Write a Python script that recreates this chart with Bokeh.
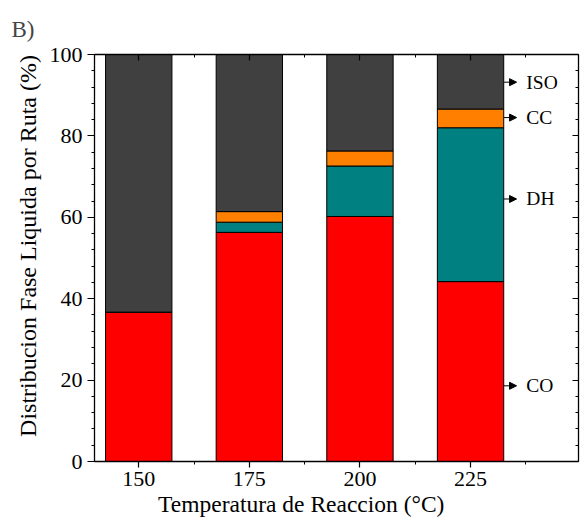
from bokeh.plotting import figure
from bokeh.models import (Range1d, LinearAxis, Arrow, NormalHead, FixedTicker,
                          SingleIntervalTicker, ColumnDataSource, CustomJSTickFormatter)
from bokeh.core.properties import value
from bokeh.embed import file_html
from bokeh.resources import INLINE

# ---- data ----
temps = [150, 175, 200, 225]
series = ["CO", "DH", "CC", "ISO"]
co = [36.7, 56.3, 60.2, 44.2]
dh = [0.0, 2.5, 12.4, 37.8]
cc = [0.0, 2.6, 3.7, 4.6]
iso = [63.3, 38.6, 23.7, 13.4]
colors = ["#FF0000", "#008080", "#FF8000", "#404040"]
label_y = [18.6, 64.5, 84.5, 93.2]   # annotation heights of the route labels
x_title = "Temperatura de Reaccion (°C)"
y_title = "Distribucion Fase Liquida por Ruta (%)"
panel = "B)"

FONT = "Liberation Serif"
BAR_W = 15
X0, X1 = 140, 249.4
NB = "\u00a0"

src = ColumnDataSource(dict(x=temps, CO=co, DH=dh, CC=cc, ISO=iso))

p = figure(width=580, height=522, x_range=Range1d(X0, X1), y_range=Range1d(0, 100),
           output_backend="svg", toolbar_location=None,
           min_border_left=94, min_border_right=2, min_border_top=54, min_border_bottom=61)
p.grid.visible = False
p.outline_line_color = None

p.vbar_stack(series, x="x", width=BAR_W, source=src, fill_color=colors,
             line_color="black", line_width=1)

xminor = [t + 12.5 for t in temps]
blank = CustomJSTickFormatter(code="return ''")

def style(ax, inside, tick=6):
    ax.axis_line_color = "black"
    ax.axis_line_width = 1.3
    ax.major_tick_line_color = "black"
    ax.minor_tick_line_color = "black"
    ax.major_tick_line_width = 1.2
    ax.minor_tick_line_width = 1.0
    if inside:
        ax.major_tick_in, ax.major_tick_out = tick, 0
        ax.minor_tick_in, ax.minor_tick_out = 3, 0
        ax.formatter = blank
        ax.major_label_standoff = 0
    else:
        ax.major_tick_in, ax.major_tick_out = 0, tick
        ax.minor_tick_in, ax.minor_tick_out = 0, 3
        ax.major_label_text_font = FONT
        ax.major_label_text_font_size = "22px"
        ax.major_label_text_color = "black"
        ax.axis_label_text_font = FONT
        ax.axis_label_text_font_style = "normal"
        ax.axis_label_text_color = "black"

p.xaxis.ticker = FixedTicker(ticks=temps, minor_ticks=xminor)
p.yaxis.ticker = SingleIntervalTicker(interval=20, num_minor_ticks=5)
style(p.xaxis[0], False, 6)
style(p.yaxis[0], False, 7)
p.xaxis.major_label_standoff = 4
p.yaxis.major_label_standoff = 5
# padding shifts the visible titles to where the reference centres them
p.xaxis.axis_label = x_title + NB * 12
p.yaxis.axis_label = NB * 4 + y_title
p.xaxis.axis_label_text_font_size = "23.5px"
p.yaxis.axis_label_text_font_size = "24px"
p.xaxis.axis_label_standoff = 2
p.yaxis.axis_label_standoff = 6

top = LinearAxis(ticker=FixedTicker(ticks=temps, minor_ticks=xminor))
right = LinearAxis(ticker=SingleIntervalTicker(interval=20, num_minor_ticks=5))
style(top, True, 6)
style(right, True, 6)
p.add_layout(top, "above")
p.add_layout(right, "right")

# route labels with arrows
x_edge = temps[-1] + BAR_W / 2
for y in label_y:
    p.add_layout(Arrow(end=NormalHead(size=7, fill_color="black", line_color="black"),
                       x_start=x_edge, x_end=x_edge + 2.9, y_start=y, y_end=y,
                       line_color="black", line_width=1))
p.text(x=[x_edge + 5.1] * 4, y=label_y, text=series, text_font=value(FONT),
       text_font_size="19.5px", text_baseline="middle", text_align="left",
       text_color="black")

p.title.text = panel
p.title.text_font = FONT
p.title.text_font_size = "23px"
p.title.text_font_style = "normal"
p.title.align = "left"
p.title.offset = -83
p.title.standoff = 26

open("out.html", "w").write(file_html(p, INLINE))
